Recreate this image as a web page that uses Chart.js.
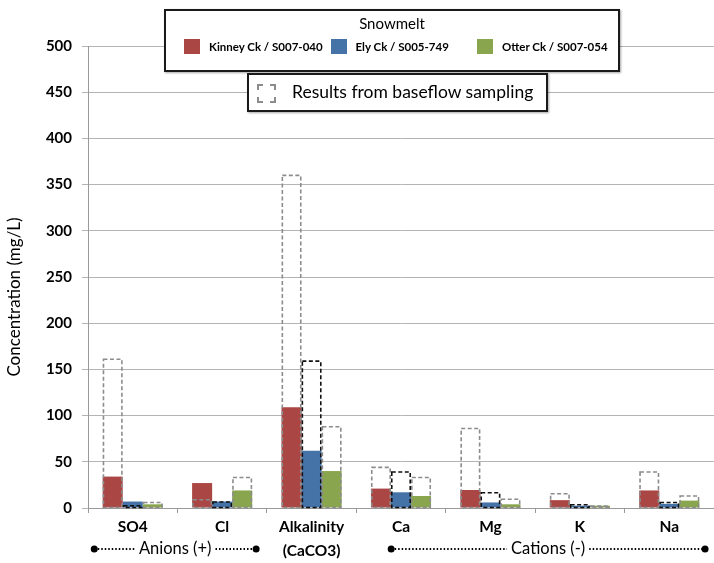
<!DOCTYPE html>
<html><head><meta charset="utf-8">
<script src="https://cdn.jsdelivr.net/npm/chart.js@4/dist/chart.umd.min.js"></script>
<style>
html,body{margin:0;padding:0;background:#fff;}
#wrap{position:relative;width:714px;height:563px;overflow:hidden;}
canvas{position:absolute;left:0;top:0;}
.box{position:absolute;border:2px solid #1a1a1a;background:#fff;box-shadow:1px 1px 2px rgba(0,0,0,0.35);font-family:Lato,"Open Sans",sans-serif;color:#000;}
</style></head><body>
<div id="wrap">
<canvas id="c" width="714" height="563"></canvas>
<div class="box" id="leg1" style="left:164px;top:9px;width:452px;height:59px;"></div>
<div class="box" id="leg2" style="left:247px;top:73px;width:297px;height:35px;"></div>
</div>
<script>
// ---- data ----
const categories = ['SO4', 'Cl', ['Alkalinity', '(CaCO3)'], 'Ca', 'Mg', 'K', 'Na'];
const seriesNames = ['Kinney Ck / S007-040', 'Ely Ck / S005-749', 'Otter Ck / S007-054'];
const kinneySnowmelt = [34, 27, 109, 21, 19.5, 8.5, 19];
const elySnowmelt    = [7, 7, 62, 17, 6, 2.5, 4.5];
const otterSnowmelt  = [4, 19, 40, 13, 4, 2.5, 8];
const kinneyBaseflow = [161, 9, 360, 44, 86, 15.5, 39];
const elyBaseflow    = [2.5, 6.5, 159, 39, 16.5, 3.5, 6];
const otterBaseflow  = [6, 33, 88, 33, 9.5, 2, 13];
const yTicks = [0, 50, 100, 150, 200, 250, 300, 350, 400, 450, 500];
const groupLabels = ['Anions (+)', 'Cations (-)'];
const yTitle = 'Concentration (mg/L)';

// ---- styles ----
const fillColors = ['#AA4643', '#4572A7', '#89A54E'];
const dashColors = ['#8c8c8c', '#111111', '#8c8c8c'];
const stackIds = ['kinney', 'ely', 'otter'];
const brackets = [
  {label: groupLabels[0], from: -0.43, to: 1.38},
  {label: groupLabels[1], from: 2.89, to: 6.4}
];

// legends (HTML)
const leg1 = document.getElementById('leg1');
leg1.innerHTML = '<div style="position:absolute;left:0;right:0;top:3px;text-align:center;font-size:15px;">Snowmelt</div>';
seriesNames.forEach((n, i) => {
  const d = document.createElement('div');
  d.style.cssText = 'position:absolute;top:28px;left:' + (18 + i * 146.5) + 'px;display:flex;align-items:center;white-space:nowrap;';
  d.innerHTML = '<span style="display:inline-block;width:16px;height:15px;background:' + fillColors[i] + ';margin-right:9px;"></span>' +
    '<span style="font-size:11.5px;font-weight:bold;">' + n + '</span>';
  leg1.appendChild(d);
});
document.getElementById('leg2').innerHTML =
  '<span style="position:absolute;left:8px;top:9px;width:15px;height:15px;border:2px dashed #8c8c8c;"></span>' +
  '<span style="position:absolute;left:43px;top:6px;font-size:17.5px;white-space:nowrap;">Results from baseflow sampling</span>';

const snow = [kinneySnowmelt, elySnowmelt, otterSnowmelt];
const base = [kinneyBaseflow, elyBaseflow, otterBaseflow];
const datasets = [];
snow.forEach((d, i) => datasets.push({
  label: seriesNames[i] + ' snowmelt', data: d, backgroundColor: fillColors[i],
  borderWidth: 0, stack: stackIds[i]
}));
base.forEach((d, i) => datasets.push({
  label: seriesNames[i] + ' baseflow', data: d, backgroundColor: 'rgba(0,0,0,0)',
  borderWidth: 0, stack: stackIds[i], isBaseflow: true, dashColor: dashColors[i]
}));

const dashPlugin = {
  id: 'dashBoxes',
  afterDatasetsDraw(chart) {
    const ctx = chart.ctx;
    chart.data.datasets.forEach((ds, i) => {
      if (!ds.isBaseflow) return;
      const meta = chart.getDatasetMeta(i);
      ctx.save();
      ctx.strokeStyle = ds.dashColor;
      ctx.lineWidth = 1.6;
      ctx.setLineDash([4, 2.5]);
      meta.data.forEach(el => {
        const p = el.getProps(['x', 'y', 'base', 'width'], true);
        ctx.strokeRect(p.x - p.width / 2 + 0.8, p.y, p.width - 1.6, p.base - p.y);
      });
      ctx.restore();
    });
  },
  afterDraw(chart) {
    const ctx = chart.ctx;
    const xs = chart.scales.x;
    const y = 549;
    ctx.save();
    ctx.font = '16.5px Lato, "Open Sans", sans-serif';
    ctx.textAlign = 'center';
    ctx.textBaseline = 'middle';
    brackets.forEach(b => {
      const x1 = xs.getPixelForValue(b.from), x2 = xs.getPixelForValue(b.to);
      const cx = (x1 + x2) / 2;
      const w = ctx.measureText(b.label).width;
      ctx.fillStyle = '#000';
      ctx.fillText(b.label, cx, y);
      ctx.strokeStyle = '#000';
      ctx.lineWidth = 2;
      ctx.setLineDash([1.5, 2]);
      ctx.beginPath();
      ctx.moveTo(x1, y); ctx.lineTo(cx - w / 2 - 4, y);
      ctx.moveTo(cx + w / 2 + 4, y); ctx.lineTo(x2, y);
      ctx.stroke();
      ctx.setLineDash([]);
      [x1, x2].forEach(x => { ctx.beginPath(); ctx.arc(x, y, 3.5, 0, Math.PI * 2); ctx.fill(); });
    });
    // y axis title
    ctx.save();
    ctx.translate(15, 297);
    ctx.rotate(-Math.PI / 2);
    ctx.font = '17px Lato, "Open Sans", sans-serif';
    ctx.fillText(yTitle, 0, 0);
    ctx.restore();
    ctx.restore();
  }
};

new Chart(document.getElementById('c'), {
  type: 'bar',
  data: {labels: categories, datasets},
  options: {
    responsive: false,
    animation: false,
    layout: {padding: {top: 46, right: 0, left: 0, bottom: 0}},
    datasets: {bar: {barPercentage: 1, categoryPercentage: 0.672}},
    plugins: {legend: {display: false}, tooltip: {enabled: false}},
    scales: {
      x: {
        grid: {offset: true, drawOnChartArea: false, color: '#999', tickLength: 5},
        border: {color: '#999'},
        ticks: {color: '#000', padding: 2, font: {family: 'Lato', size: 15.5, weight: 'bold', lineHeight: 1.55}},
        afterFit: s => { s.height = 55; }
      },
      y: {
        stacked: false,
        min: 0, max: 500,
        afterBuildTicks: s => { s.ticks = yTicks.map(v => ({value: v})); },
        grid: {color: '#b4b4b4', tickLength: 6},
        border: {color: '#999'},
        ticks: {color: '#000', padding: 10, font: {family: 'Lato', size: 15, weight: 'bold'}},
        afterFit: s => { s.width = 88; }
      }
    }
  },
  plugins: [dashPlugin]
});
</script>
</body></html>
